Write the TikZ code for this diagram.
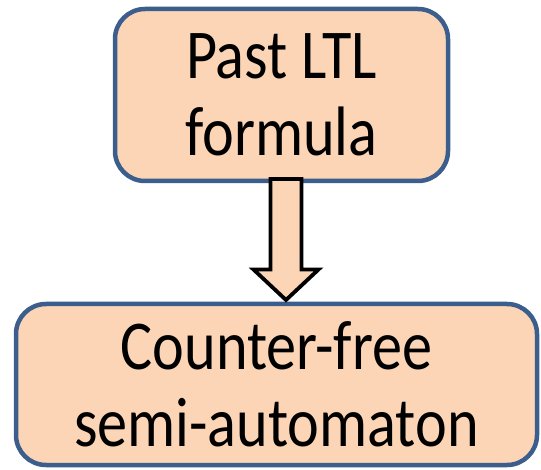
\documentclass[tikz,border=0pt]{standalone}
\usepackage{fontspec}
\setmainfont{Carlito}[FakeStretch=0.86]
\definecolor{boxfill}{HTML}{FBD5B5}
\definecolor{boxline}{HTML}{3B5E8C}
\begin{document}
\begin{tikzpicture}
		\tikzset{stage/.style = {shape=rectangle, draw=boxline, fill=boxfill, line width=4.5pt, rounded corners=30pt, outer sep=0pt, align=center, font=\fontsize{70pt}{77pt}\selectfont}}
		\tikzset{blockarrow/.style = {draw=black, fill=boxfill, line width=3.8pt, line join=miter}}

		\useasboundingbox (0,0) rectangle (541pt,-470pt);

		\node[stage, minimum width=333pt, minimum height=172pt] (past) at (281.5pt,-95pt) {Past LTL\\formula};
		\node[stage, minimum width=521pt, minimum height=161pt] (cfree) at (276.5pt,-384.5pt) {Counter-free\\semi-automaton};

		\coordinate (arrtop) at ([xshift=4.5pt,yshift=2pt]past.south);
		\coordinate (arrtip) at ([yshift=4pt]arrtop |- cfree.north);

		\draw[blockarrow] ([xshift=-15.5pt]arrtop) -- ([xshift=15.5pt]arrtop) -- ([xshift=15.5pt,yshift=30.5pt]arrtip) -- ([xshift=32.5pt,yshift=30.5pt]arrtip) -- (arrtip) -- ([xshift=-32.5pt,yshift=30.5pt]arrtip) -- ([xshift=-15.5pt,yshift=30.5pt]arrtip) -- cycle;

	\end{tikzpicture}
\end{document}
